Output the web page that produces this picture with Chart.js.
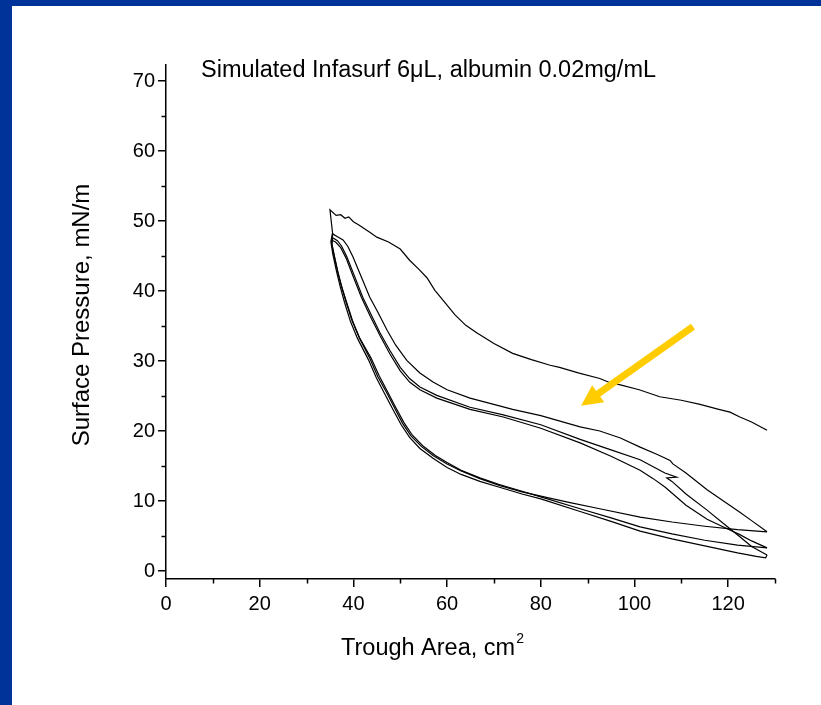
<!DOCTYPE html>
<html><head><meta charset="utf-8">
<script src="https://cdn.jsdelivr.net/npm/chart.js@4"></script>
<style>html,body{margin:0;padding:0;background:#fff;}canvas{display:block;}</style>
</head><body>
<canvas id="c" width="821" height="705"></canvas>
<script>
const xTicks = [0, 20, 40, 60, 80, 100, 120];
const xMinorTicks = [10, 30, 50, 70, 90, 110, 130];
const yTicks = [0, 10, 20, 30, 40, 50, 60, 70];
const yMinorTicks = [5, 15, 25, 35, 45, 55, 65];

const compression1 = [[128.3,20.1],[127.5,20.4],[125,21.3],[122.5,22.0],[120.4,22.7],[118,23.1],[114,23.8],[110,24.4],[105.4,24.9],[101,25.9],[97,26.6],[94.8,26.9],[92.6,27.5],[88,28.3],[84,29.1],[82,29.4],[78,30.2],[74,31.1],[70,32.5],[66.4,34.0],[64,35.1],[61.7,36.6],[59.6,38.3],[57.4,40.1],[55.7,41.9],[54,43.1],[52,44.4],[50,46.0],[47.5,47.0],[45,47.7],[43.5,48.4],[41,49.5],[40,49.9],[39,50.6],[38.2,50.4],[37.3,50.9],[36.3,50.8],[35,51.6],[35.6,48.0]];
const expansion1 = [[35.6,48.0],[35.3,47.2],[35.8,45.5],[36.6,43.0],[37.4,40.8],[38.4,38.5],[39.7,35.8],[41.2,33.4],[43.5,30.4],[45.2,27.8],[47,25.6],[48.8,23.3],[50.5,21.1],[52.3,19.3],[54.5,17.8],[57,16.5],[60,15.3],[63,14.3],[67,13.2],[71.3,12.2],[76,11.3],[80,10.7],[86,9.8],[92.6,8.9],[101.2,7.7],[108,7.0],[115,6.4],[122,5.9],[128.3,5.6]];
const compression2 = [[128.3,5.6],[125,7.2],[122.5,8.4],[119,10.0],[115.5,11.6],[111,14.0],[108.2,15.3],[107.6,15.8],[105,16.6],[101.2,17.7],[97,19.0],[92.6,20.0],[88.4,20.6],[80,22.2],[74,23.1],[64.9,24.7],[60,25.9],[57,27.0],[54.2,28.3],[51.4,30.1],[49,32.3],[47.2,34.4],[45.2,37.0],[43.5,39.1],[41.7,42.0],[39.9,44.9],[38.8,46.4],[37.8,47.3],[36.5,47.8],[35.5,48.2]];
const expansion2 = [[35.5,48.2],[35.2,47.0],[35.6,45.3],[36.4,42.8],[37.2,40.6],[38.1,38.4],[39.4,35.6],[40.9,33.2],[43.2,30.2],[44.9,27.6],[46.7,25.3],[48.5,23.0],[50.2,20.9],[52,19.1],[54.2,17.5],[57,16.1],[60,14.8],[63,13.8],[67,12.8],[71,12.0],[76,11.0],[80,10.3],[88.4,8.5],[95,7.1],[101.2,5.7],[108,4.6],[115,3.6],[122,2.6],[126,2.1],[128,1.9],[128.3,2.3]];
const compression3 = [[128.3,2.3],[125,3.5],[122.5,4.9],[119,6.8],[115.5,8.7],[111,11.0],[108,12.8],[106.9,13.3],[109,13.4],[106.5,14.0],[104,14.9],[101.2,15.9],[95,17.3],[88.4,18.8],[80,20.9],[72,22.3],[64.9,23.4],[57.8,25.1],[54.2,26.3],[52,27.5],[50,29.1],[47.8,31.5],[45.7,34.0],[43.8,36.6],[42,39.1],[40.2,42.2],[38.6,44.9],[37.5,46.4],[36.6,47.2],[35.6,47.6]];
const expansion3 = [[35.6,47.6],[35.4,46.6],[35.9,45.0],[36.7,42.6],[37.6,40.4],[38.6,38.3],[39.9,35.6],[41.4,33.2],[43.8,30.4],[45.5,27.9],[47.3,25.6],[49.1,23.3],[50.8,21.2],[52.6,19.4],[54.8,17.9],[57.5,16.5],[60,15.5],[63,14.4],[67,13.3],[71,12.4],[76,11.4],[80,10.6],[88.4,8.9],[95,7.6],[101.2,6.3],[108,5.3],[115,4.4],[122,3.7],[128.3,3.3]];
const compression4 = [[128.3,3.3],[125,4.3],[122.5,5.2],[119,6.3],[115.5,7.4],[111,9.4],[106.5,12.0],[104,13.2],[101.2,14.4],[95,16.4],[88.4,18.3],[80,20.4],[72,22.0],[64.9,23.1],[57.8,24.7],[54.2,25.9],[52,27.0],[50,28.6],[47.8,31.0],[45.7,33.6],[43.6,36.4],[41.7,39.1],[40,42.0],[38.5,44.6],[37.3,46.2],[36.2,47.0],[35.3,47.3]];

const arrowFrom = [112.5, 34.9];
const arrowTo = [88.6, 23.6];

const titleText = 'Simulated Infasurf 6\u03BCL, albumin 0.02mg/mL';
const xTitleText = 'Trough Area, cm';
const xTitleSup = '2';
const yTitleText = 'Surface Pressure, mN/m';

const FONT = '"Liberation Sans", Arial, Helvetica, sans-serif';
const series = [compression1, expansion1, compression2, expansion2, compression3, expansion3, compression4];

const datasets = series.map(s => ({
  data: s.map(p => ({x: p[0], y: p[1]})),
  borderColor: '#000', borderWidth: 1.2, pointRadius: 0,
  showLine: true, fill: false, tension: 0
}));

const decor = {
  id: 'decor',
  beforeDraw(chart) {
    const c = chart.ctx;
    c.save();
    c.fillStyle = '#fff'; c.fillRect(0, 0, chart.width, chart.height);
    c.fillStyle = '#003399';
    c.fillRect(0, 0, chart.width, 6);
    c.fillRect(0, 0, 12, chart.height);
    c.restore();
  },
  afterDraw(chart) {
    const c = chart.ctx, xs = chart.scales.x, ys = chart.scales.y, a = chart.chartArea;
    c.save();
    c.strokeStyle = '#000'; c.lineWidth = 1.5;
    c.beginPath();
    xMinorTicks.forEach(v => { const px = Math.round(xs.getPixelForValue(v)) + 0.5; c.moveTo(px, a.bottom); c.lineTo(px, a.bottom + 4.5); });
    yMinorTicks.forEach(v => { const py = Math.round(ys.getPixelForValue(v)) + 0.5; c.moveTo(a.left, py); c.lineTo(a.left - 4.5, py); });
    c.stroke();
    const x1 = xs.getPixelForValue(arrowFrom[0]), y1 = ys.getPixelForValue(arrowFrom[1]);
    const x2 = xs.getPixelForValue(arrowTo[0]), y2 = ys.getPixelForValue(arrowTo[1]);
    const ang = Math.atan2(y2 - y1, x2 - x1), hl = 21, hw = 10.5;
    const bx = x2 - hl * Math.cos(ang), by = y2 - hl * Math.sin(ang);
    c.strokeStyle = '#FFCC00'; c.fillStyle = '#FFCC00'; c.lineWidth = 7; c.lineCap = 'butt';
    c.beginPath(); c.moveTo(x1, y1); c.lineTo(bx + 2 * Math.cos(ang), by + 2 * Math.sin(ang)); c.stroke();
    c.beginPath();
    c.moveTo(x2, y2);
    c.lineTo(bx + hw * Math.sin(ang), by - hw * Math.cos(ang));
    c.lineTo(bx - hw * Math.sin(ang), by + hw * Math.cos(ang));
    c.closePath(); c.fill();
    c.fillStyle = '#000';
    c.textBaseline = 'alphabetic'; c.textAlign = 'left';
    c.font = '23.5px ' + FONT;
    c.fillText(titleText, 201, 77);
    c.font = '23.5px ' + FONT;
    c.fillText(xTitleText, 341, 655);
    const w = c.measureText(xTitleText).width;
    c.font = '14px ' + FONT;
    c.fillText(xTitleSup, 341 + w + 1, 643);
    c.font = '24px ' + FONT;
    c.translate(89, 315); c.rotate(-Math.PI / 2);
    c.textAlign = 'center';
    c.fillText(yTitleText, 0, 0);
    c.restore();
  }
};

const axisCommon = {
  type: 'linear',
  ticks: {color: '#000', font: {family: FONT, size: 20}, autoSkip: false, maxRotation: 0},
  grid: {drawOnChartArea: false, drawTicks: true, tickLength: 8, color: '#000', lineWidth: 1.5},
  border: {display: true, color: '#000', width: 1.5}
};

new Chart(document.getElementById('c'), {
  type: 'scatter',
  data: {datasets},
  options: {
    responsive: false, animation: false,
    layout: {padding: {left: 0, top: 65, right: 46, bottom: 0}},
    plugins: {legend: {display: false}, tooltip: {enabled: false}, title: {display: false}},
    scales: {
      x: Object.assign({}, axisCommon, {
        position: 'bottom', min: 0, max: 130,
        ticks: Object.assign({}, axisCommon.ticks, {padding: 5}),
        afterFit(s) { s.height = 126; },
        afterBuildTicks(s) { s.ticks = xTicks.map(v => ({value: v})); }
      }),
      y: Object.assign({}, axisCommon, {
        position: 'left', min: -1.14, max: 72.29,
        ticks: Object.assign({}, axisCommon.ticks, {padding: 3}),
        afterFit(s) { s.width = 166; },
        afterBuildTicks(s) { s.ticks = yTicks.map(v => ({value: v})); }
      })
    }
  },
  plugins: [decor]
});
</script>
</body></html>
